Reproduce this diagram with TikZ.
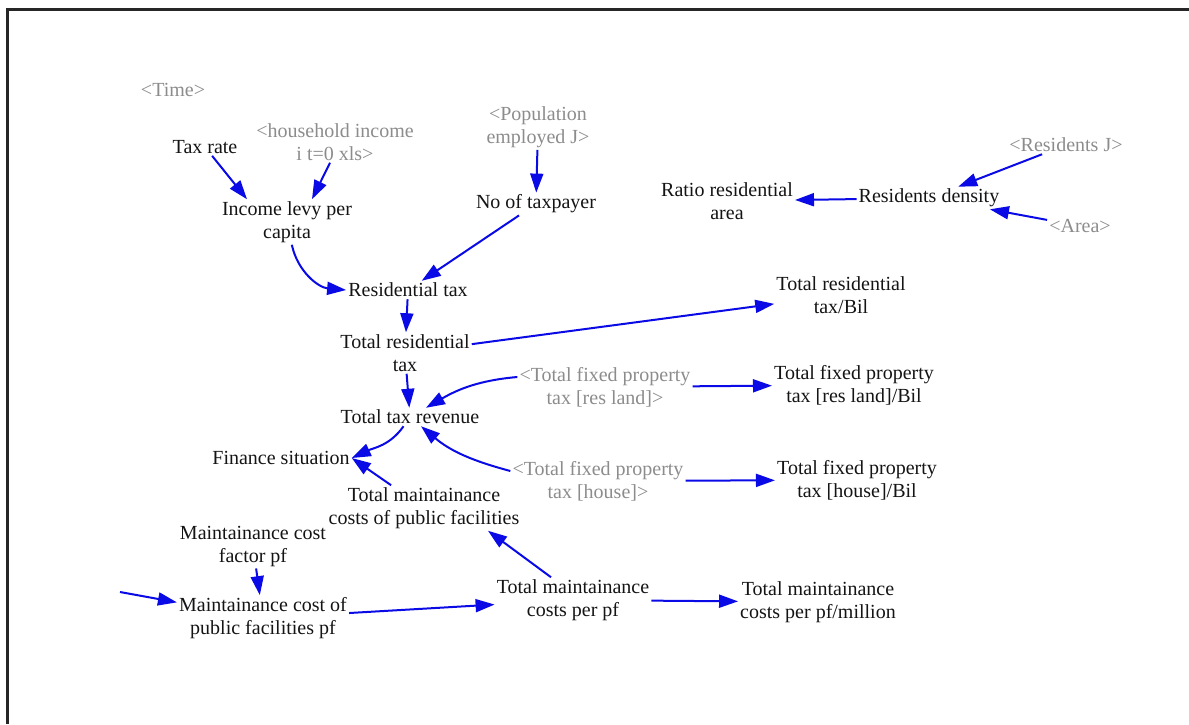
\documentclass[tikz,border=0pt]{standalone}
\usepackage{fontspec}
\setmainfont{Liberation Serif}
\newfontfamily\varfont{Liberation Serif}
\usetikzlibrary{arrows.meta}
\definecolor{linkblue}{RGB}{10,10,230}
\definecolor{shadowgray}{RGB}{140,140,140}
\definecolor{inkblack}{RGB}{20,20,20}
\tikzset{
  var/.style={align=center, inner sep=2pt, text=inkblack,
    font=\varfont\fontsize{20}{23}\selectfont},
  shadowvar/.style={var, text=shadowgray},
  link/.style={draw=linkblue, line width=2pt,
    -{Triangle[length=19pt,width=13pt]}},
}
\begin{document}
\begin{tikzpicture}[x=1pt,y=1pt]
\useasboundingbox (0,0) rectangle (1189,-724);
% frame
\draw[line width=3pt, draw=black!85] (7,-724) -- (7,-9) -- (1189,-9);

% variables
\node[shadowvar] (time) at (173,-90) {<Time>};
\node[var] (taxrate) at (205,-147) {Tax rate};
\node[shadowvar] (hhinc) at (335,-142) {<household income\\i t=0 xls>};
\node[var] (levy) at (287,-222) {Income levy per\\capita};
\node[shadowvar] (popemp) at (538,-127) {<Population\\employed J>};
\node[var] (ntp) at (536,-204) {No of taxpayer};
\node[var] (ratio) at (727,-201) {Ratio residential\\area};
\node[var] (rdens) at (929,-198) {Residents density};
\node[shadowvar] (resj) at (1066,-145) {<Residents J>};
\node[shadowvar] (area) at (1080,-226) {<Area>};
\node[var] (restax) at (408,-290) {Residential tax};
\node[var] (totres) at (405,-353) {Total residential\\tax};
\node[var] (totresbil) at (841,-295) {Total residential\\tax/Bil};
\node[var] (ttr) at (410,-417) {Total tax revenue};
\node[shadowvar] (fpland) at (605,-387) {<Total fixed property\\tax [res land]>};
\node[var] (fplandbil) at (854,-385) {Total fixed property\\tax [res land]/Bil};
\node[var] (fin) at (281,-458) {Finance situation};
\node[shadowvar] (fphouse) at (598,-481) {<Total fixed property\\tax [house]>};
\node[var] (fphousebil) at (857,-480) {Total fixed property\\tax [house]/Bil};
\node[var] (tmcpf) at (424,-508) {Total maintainance\\costs of public facilities};
\node[var] (mcf) at (253,-546) {Maintainance cost\\factor pf};
\node[var] (mcpf) at (263,-618) {Maintainance cost of\\public facilities pf};
\node[var] (tcpp) at (573,-600) {Total maintainance\\costs per pf};
\node[var] (tcppm) at (818,-602) {Total maintainance\\costs per pf/million};
\coordinate (inflow) at (120,-592);

% links
\draw[link] (taxrate) -- ([xshift=-40pt]levy.north);
\draw[link] ([xshift=-5pt]hhinc.south) -- ([xshift=25pt]levy.north);
\draw[link] (popemp) -- (ntp);
\draw[link] (ntp) -- (restax);
\draw[link] (levy) to[out=-78,in=175] (restax.west);
\draw[link] (resj) -- (rdens);
\draw[link] (area) -- (rdens);
\draw[link] (rdens) -- (ratio);
\draw[link] (restax) -- (totres);
\draw[link] (totres) -- (totresbil);
\draw[link] (totres) -- (ttr);
\draw[link] ([yshift=10pt]fpland.west) to[out=185,in=30] (ttr);
\draw[link] (fpland) -- (fplandbil);
\draw[link] (ttr) to[out=-125,in=25] (fin.east);
\draw[link] ([yshift=10pt]fphouse.west) to[out=165,in=-40] (ttr);
\draw[link] (fphouse) -- (fphousebil);
\draw[link] (tmcpf) -- (fin.east);
\draw[link] ([xshift=-22pt]tcpp.north) -- ([xshift=64pt]tmcpf.south);
\draw[link] (tcpp) -- (tcppm);
\draw[link] (mcf) -- (mcpf);
\draw[link] (mcpf) -- (tcpp);
\draw[link] (inflow) -- (mcpf);
\end{tikzpicture}
\end{document}
